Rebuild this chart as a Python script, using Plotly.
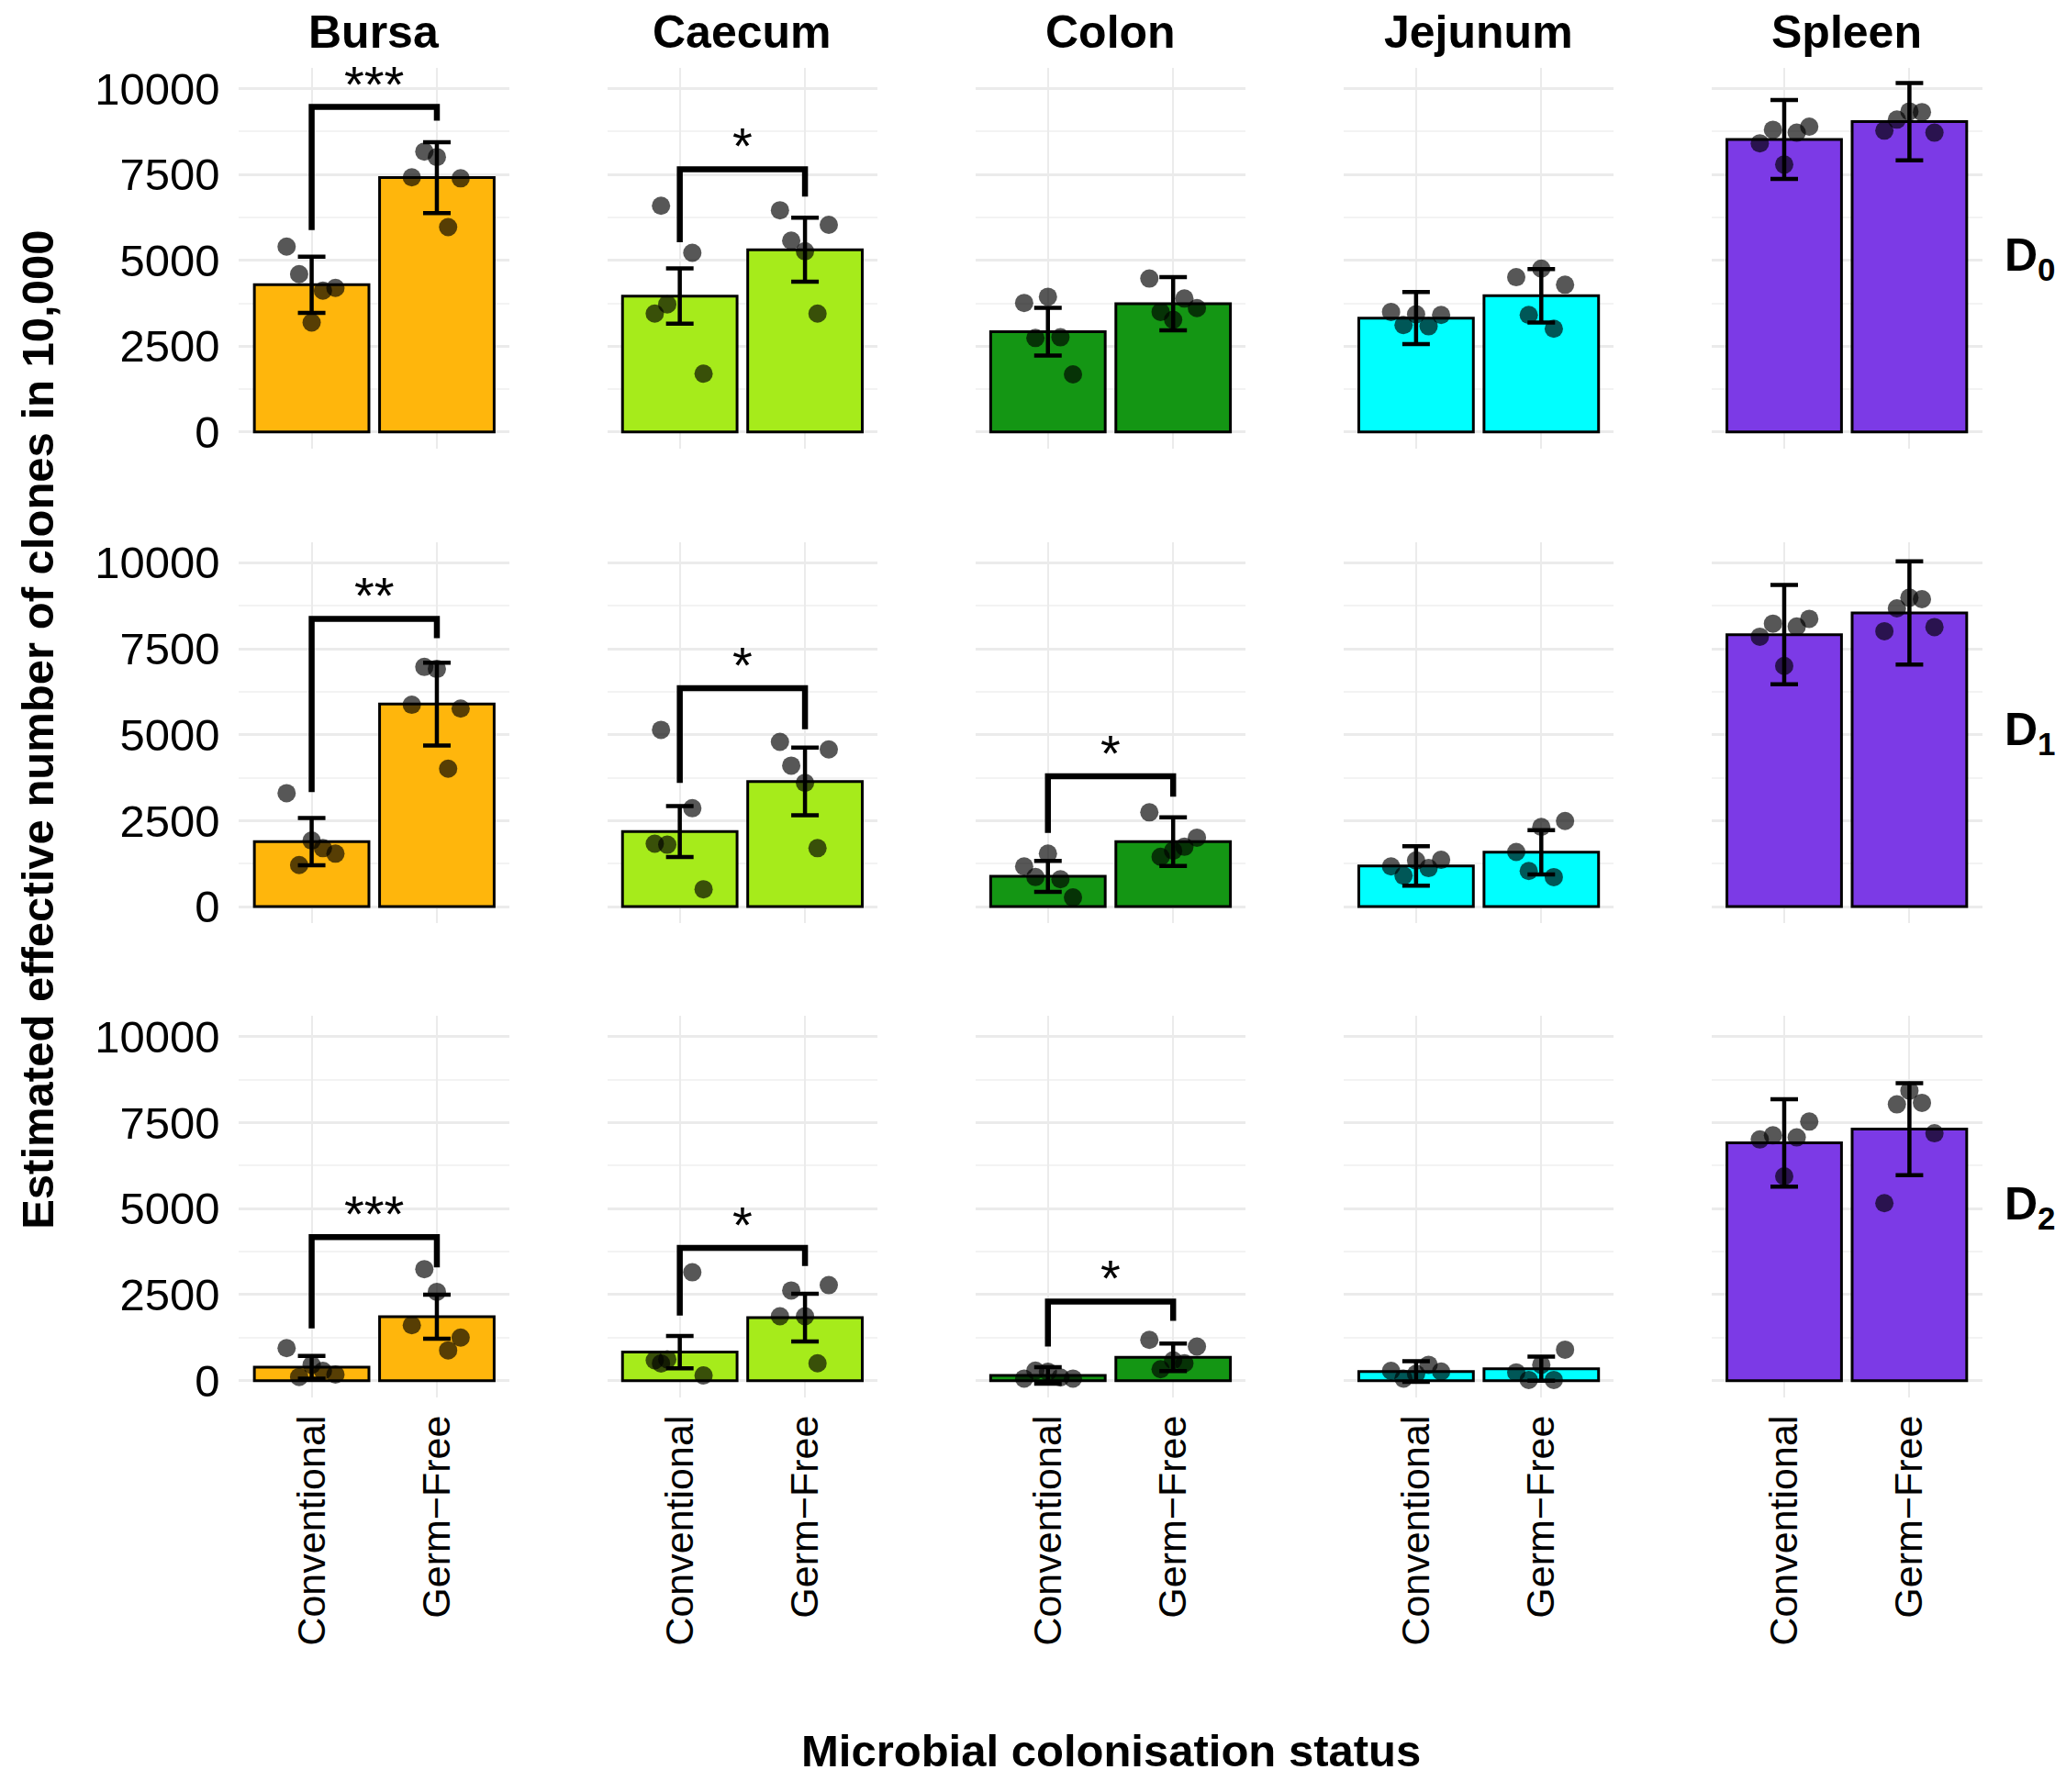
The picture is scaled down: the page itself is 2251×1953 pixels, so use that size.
import plotly.graph_objects as go

# ---------------- data ----------------
tissues = ["Bursa", "Caecum", "Colon", "Jejunum", "Spleen"]
statuses = ["Conventional", "Germ\u2212Free"]
timepoints = ["D<sub>0</sub>", "D<sub>1</sub>", "D<sub>2</sub>"]
tissue_colors = ["#FFB60C", "#A6EB1B", "#149614", "#00FFFF", "#7C3AE6"]

# bar means (one value per tissue)
mean_d0_conv = [4290, 3960, 2920, 3320, 8520]
mean_d0_gf = [7410, 5310, 3740, 3970, 9040]
mean_d1_conv = [1890, 2180, 880, 1180, 7910]
mean_d1_gf = [5890, 3640, 1890, 1580, 8540]
mean_d2_conv = [390, 830, 150, 265, 6910]
mean_d2_gf = [1855, 1830, 680, 345, 7310]

# error bar half-lengths
err_d0_conv = [820, 805, 695, 760, 1150]
err_d0_gf = [1030, 930, 775, 780, 1125]
err_d1_conv = [685, 740, 450, 575, 1445]
err_d1_gf = [1205, 985, 705, 645, 1500]
err_d2_conv = [330, 470, 240, 300, 1270]
err_d2_gf = [640, 695, 400, 350, 1335]

# individual birds (ordered left to right within each bar)
pts_d0_conv = [[5400, 4600, 3190, 4120, 4200], [3450, 6590, 3720, 5220, 1700],
               [3760, 2740, 3940, 2760, 1680], [3500, 3115, 3430, 3080, 3410],
               [8410, 8805, 7790, 8720, 8895]]
pts_d0_gf = [[7420, 8170, 8010, 5970, 7390], [6460, 5575, 5265, 3450, 6035],
             [4470, 3500, 3270, 3890, 3610], [4510, 3410, 4760, 3010, 4290],
             [8780, 9100, 9340, 9320, 8720]]
pts_d1_conv = [[3300, 1210, 1920, 1700, 1540], [1830, 5140, 1800, 2860, 504],
               [1170, 860, 1540, 795, 265], [1170, 900, 1340, 1120, 1360],
               [7850, 8230, 7000, 8145, 8370]]
pts_d1_gf = [[5870, 6970, 6910, 4010, 5760], [4790, 4100, 3600, 1700, 4570],
             [2740, 1450, 1625, 1740, 2005], [1590, 1035, 2315, 857, 2490],
             [8010, 8675, 8985, 8940, 8130]]
pts_d2_conv = [[945, 106, 459, 283, 177], [590, 500, 620, 3150, 150],
               [60, 290, 260, 90, 60], [285, 60, 195, 460, 265],
               [7010, 7130, 5940, 7070, 7530]]
pts_d2_gf = [[1610, 3240, 2580, 880, 1250], [1870, 2620, 1870, 504, 2775],
             [1185, 330, 590, 505, 990], [240, 20, 460, 20, 900],
             [5160, 8030, 8430, 8075, 7190]]

# significance brackets
sig_row = [0, 0, 1, 1, 1, 2, 2, 2]
sig_tissue = [0, 1, 0, 1, 2, 0, 1, 2]
sig_height = [9470, 7655, 8370, 6350, 3790, 4170, 3860, 2300]
sig_left_end = [5885, 5530, 3330, 3595, 2140, 1520, 1890, 990]
sig_right_end = [9070, 6860, 7810, 5160, 3200, 3290, 3330, 1740]
sig_label = ["***", "*", "**", "*", "*", "***", "*", "*"]

y_ticks = [0, 2500, 5000, 7500, 10000]
y_tick_labels = ["0", "2500", "5000", "7500", "10000"]
y_minor = [1250, 3750, 6250, 8750]

# ---------------- styling / layout constants ----------------
jitter_conv = [[-0.2, -0.1, 0, 0.09, 0.19], [-0.2, -0.15, -0.1, 0.1, 0.19],
               [-0.19, -0.1, 0, 0.1, 0.2], [-0.2, -0.1, 0, 0.1, 0.2],
               [-0.195, -0.09, 0, 0.1, 0.2]]
jitter_gf = [[-0.2, -0.1, 0, 0.09, 0.19], [-0.2, -0.11, 0, 0.1, 0.19],
             [-0.19, -0.1, 0, 0.09, 0.19], [-0.2, -0.1, 0, 0.1, 0.19],
             [-0.2, -0.1, 0, 0.1, 0.2]]

W, H = 2251, 1953
FONT = "Liberation Sans, Arial, Helvetica, sans-serif"
col_left0, col_step, col_width = 0.1157, 0.17819, 0.1309
row_domains = [(0.7499, 0.9638), (0.4833, 0.6975), (0.2170, 0.4313)]
x_range = [-0.58, 1.58]
y_range = [-490, 10600]
GRID = "#EBEBEB"
MINOR_GRID = "#F3F3F3"

means = [(mean_d0_conv, mean_d0_gf), (mean_d1_conv, mean_d1_gf), (mean_d2_conv, mean_d2_gf)]
errs = [(err_d0_conv, err_d0_gf), (err_d1_conv, err_d1_gf), (err_d2_conv, err_d2_gf)]
pts = [(pts_d0_conv, pts_d0_gf), (pts_d1_conv, pts_d1_gf), (pts_d2_conv, pts_d2_gf)]

fig = go.Figure()
layout_axes = {}


def ax_id(r, c):
    return r * 5 + c + 1


for r in range(3):
    for c in range(5):
        k = ax_id(r, c)
        xa = "x" if k == 1 else f"x{k}"
        ya = "y" if k == 1 else f"y{k}"
        # bars with error bars
        fig.add_trace(go.Bar(
            x=[0, 1], y=[means[r][0][c], means[r][1][c]],
            width=0.915, xaxis=xa, yaxis=ya, showlegend=False,
            marker=dict(color=tissue_colors[c], line=dict(color="black", width=3)),
            error_y=dict(type="data", array=[errs[r][0][c], errs[r][1][c]],
                         color="black", thickness=4.5, width=15),
            hoverinfo="skip",
        ))
        # points
        xs = [0 + o for o in jitter_conv[c]] + [1 + o for o in jitter_gf[c]]
        ys = list(pts[r][0][c]) + list(pts[r][1][c])
        fig.add_trace(go.Scatter(
            x=xs, y=ys, mode="markers", xaxis=xa, yaxis=ya, showlegend=False,
            marker=dict(size=20, color="rgba(0,0,0,0.66)", line=dict(width=0)),
            hoverinfo="skip",
        ))
        x0 = col_left0 + c * col_step
        layout_axes["xaxis" if k == 1 else f"xaxis{k}"] = dict(
            domain=[x0, x0 + col_width], range=x_range, anchor=ya,
            tickmode="array", tickvals=[0, 1], ticktext=statuses,
            showticklabels=(r == 2),
            tickangle=-90, tickfont=dict(family=FONT, size=43, color="black"),
            ticks="", showgrid=True, gridcolor=GRID, gridwidth=2,
            zeroline=False, showline=False, fixedrange=True,
            ticklabelstandoff=10,
        )
        layout_axes["yaxis" if k == 1 else f"yaxis{k}"] = dict(
            domain=list(row_domains[r]), range=y_range, anchor=xa,
            tickmode="array", tickvals=y_ticks, ticktext=y_tick_labels,
            showticklabels=(c == 0),
            tickfont=dict(family=FONT, size=49, color="black"),
            ticks="", showgrid=True, gridcolor=GRID, gridwidth=2.5,
            minor=dict(tickvals=y_minor, showgrid=True, gridcolor=MINOR_GRID, gridwidth=2),
            zeroline=False, showline=False, fixedrange=True,
            ticklabelstandoff=20,
        )

# significance brackets
for i in range(len(sig_label)):
    k = ax_id(sig_row[i], sig_tissue[i])
    xa = "x" if k == 1 else f"x{k}"
    ya = "y" if k == 1 else f"y{k}"
    fig.add_trace(go.Scatter(
        x=[0, 0, 1, 1],
        y=[sig_left_end[i], sig_height[i], sig_height[i], sig_right_end[i]],
        mode="lines", xaxis=xa, yaxis=ya, showlegend=False,
        line=dict(color="black", width=6.5), hoverinfo="skip",
    ))

annotations = []
for i in range(len(sig_label)):
    k = ax_id(sig_row[i], sig_tissue[i])
    annotations.append(dict(
        x=0.5, y=sig_height[i], xref="x" if k == 1 else f"x{k}",
        yref="y" if k == 1 else f"y{k}", text=sig_label[i], showarrow=False,
        xanchor="center", yanchor="bottom", yshift=-8,
        font=dict(family=FONT, size=56, color="black"),
    ))

# strip labels (tissues)
for c, t in enumerate(tissues):
    x0 = col_left0 + c * col_step
    annotations.append(dict(
        x=x0 + col_width / 2, y=0.9838, xref="paper", yref="paper",
        text=f"<b>{t}</b>", showarrow=False, xanchor="center", yanchor="middle",
        font=dict(family=FONT, size=50, color="black"),
    ))

# row labels (timepoints)
for r, tp in enumerate(timepoints):
    annotations.append(dict(
        x=0.9825, y=(row_domains[r][0] + row_domains[r][1]) / 2,
        xref="paper", yref="paper", text=f"<b>{tp}</b>", showarrow=False,
        xanchor="center", yanchor="middle",
        font=dict(family=FONT, size=50, color="black"),
    ))

# axis titles
annotations.append(dict(
    x=0.5376, y=0.0184, xref="paper", yref="paper",
    text="<b>Microbial colonisation status</b>", showarrow=False,
    xanchor="center", yanchor="middle",
    font=dict(family=FONT, size=49, color="black"),
))
annotations.append(dict(
    x=0.0179, y=0.592, xref="paper", yref="paper",
    text="<b>Estimated effective number of clones in 10,000</b>", showarrow=False,
    xanchor="center", yanchor="middle", textangle=-90,
    font=dict(family=FONT, size=49, color="black"),
))

fig.update_layout(
    width=W, height=H, margin=dict(l=0, r=0, t=0, b=0),
    paper_bgcolor="white", plot_bgcolor="white",
    barmode="overlay", showlegend=False,
    annotations=annotations,
    **layout_axes,
)

fig.write_html("out.html", config={"displayModeBar": False},
               post_script="document.body.style.margin='0';")
